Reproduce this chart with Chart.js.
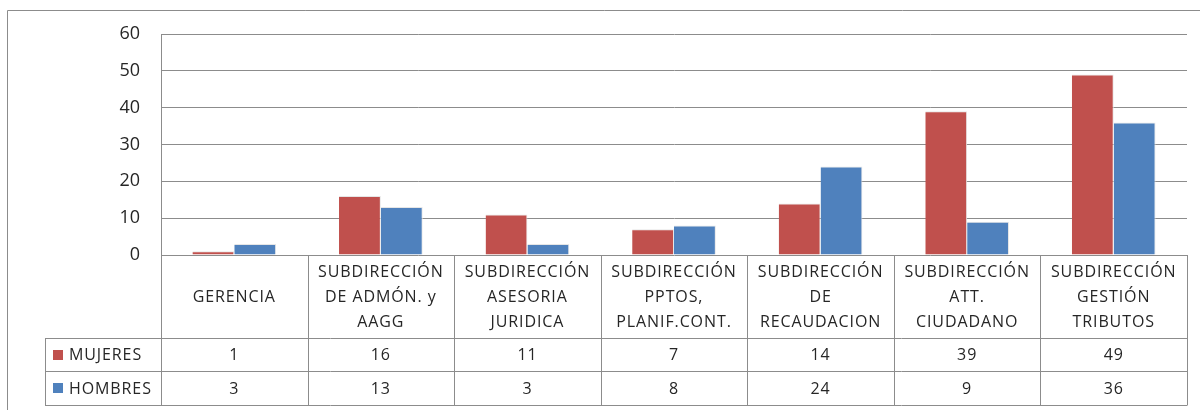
<!DOCTYPE html>
<html>
<head>
<meta charset="utf-8">
<script src="https://cdn.jsdelivr.net/npm/chart.js@4/dist/chart.umd.min.js"></script>
<style>
  html, body { margin: 0; padding: 0; background: #fff; }
  canvas { display: block; }
</style>
</head>
<body>
<canvas id="chart" width="1200" height="410"></canvas>
<script>
const categories = [
  ['GERENCIA'],
  ['SUBDIRECCIÓN', 'DE ADMÓN. y', 'AAGG'],
  ['SUBDIRECCIÓN', 'ASESORIA', 'JURIDICA'],
  ['SUBDIRECCIÓN', 'PPTOS,', 'PLANIF.CONT.'],
  ['SUBDIRECCIÓN', 'DE', 'RECAUDACION'],
  ['SUBDIRECCIÓN', 'ATT.', 'CIUDADANO'],
  ['SUBDIRECCIÓN', 'GESTIÓN', 'TRIBUTOS']
];
const mujeres = [1, 16, 11, 7, 14, 39, 49];
const hombres = [3, 13, 3, 8, 24, 9, 36];
const seriesNames = ['MUJERES', 'HOMBRES'];
const yTicks = [0, 10, 20, 30, 40, 50, 60];

const FONT = '"Open Sans", "Liberation Sans", sans-serif';
const LINE = '#8c8c8c';
const TEXT = '#262626';

// draws the data table under the plot, columns taken from the x scale
const dataTable = {
  id: 'dataTable',
  afterDraw(chart) {
    const ctx = chart.ctx;
    const area = chart.chartArea;
    const x = chart.scales.x;
    const n = categories.length;
    const colW = (area.right - area.left) / n;
    const top = Math.round(area.bottom);
    const rows = [top + 83, top + 116, top + 150];
    const legendLeft = 45;

    ctx.save();
    ctx.strokeStyle = LINE;
    ctx.lineWidth = 1;

    // outer chart frame
    ctx.beginPath();
    ctx.moveTo(7.5, 420);
    ctx.lineTo(7.5, 10.5);
    ctx.lineTo(1210, 10.5);
    ctx.stroke();

    // horizontal lines
    ctx.beginPath();
    rows.forEach(r => {
      ctx.moveTo(legendLeft, r + 0.5);
      ctx.lineTo(area.right, r + 0.5);
    });
    ctx.stroke();

    // vertical lines
    ctx.beginPath();
    for (let i = 0; i <= n; i++) {
      const px = Math.round(area.left + i * colW) + 0.5;
      ctx.moveTo(px, top);
      ctx.lineTo(px, rows[2] + 0.5);
    }
    ctx.moveTo(legendLeft + 0.5, rows[0]);
    ctx.lineTo(legendLeft + 0.5, rows[2] + 0.5);
    ctx.stroke();

    // header text
    ctx.fillStyle = TEXT;
    ctx.font = '16px ' + FONT;
    ctx.letterSpacing = '0.9px';
    ctx.textAlign = 'center';
    ctx.textBaseline = 'middle';
    const headMid = (top + rows[0]) / 2 + 1;
    categories.forEach((lines, i) => {
      const cx = x.getPixelForValue(i);
      const y0 = headMid - (lines.length - 1) * 25 / 2;
      lines.forEach((t, j) => ctx.fillText(t, cx, y0 + j * 25));
    });

    // value rows with legend keys
    const series = [mujeres, hombres];
    chart.data.datasets.forEach((ds, s) => {
      const mid = (rows[s] + rows[s + 1]) / 2 + 1;
      ctx.fillStyle = ds.backgroundColor;
      ctx.fillRect(53, Math.round(mid) - 6, 10, 10);
      ctx.fillStyle = TEXT;
      ctx.textAlign = 'left';
      ctx.fillText(seriesNames[s], 69, mid);
      ctx.textAlign = 'center';
      series[s].forEach((v, i) => ctx.fillText(String(v), x.getPixelForValue(i), mid));
    });
    ctx.restore();
  }
};

new Chart(document.getElementById('chart'), {
  type: 'bar',
  data: {
    labels: categories,
    datasets: [
      { label: seriesNames[0], data: mujeres, backgroundColor: '#C0504D', borderColor: '#e6e6e6', borderWidth: { top: 1, right: 1 } },
      { label: seriesNames[1], data: hombres, backgroundColor: '#4F81BD', borderColor: '#e6e6e6', borderWidth: { top: 1, right: 1 } }
    ]
  },
  options: {
    responsive: false,
    animation: false,
    datasets: {
      bar: { categoryPercentage: 0.571, barPercentage: 1 }
    },
    layout: { padding: { left: 0, top: 34, right: 13, bottom: 155 } },
    plugins: {
      legend: { display: false },
      tooltip: { enabled: false }
    },
    scales: {
      x: { display: false },
      y: {
        min: yTicks[0],
        max: yTicks[yTicks.length - 1],
        afterBuildTicks: scale => { scale.ticks = yTicks.map(v => ({ value: v })); },
        afterFit: scale => { scale.width = 161; },
        ticks: {
          padding: 21,
          color: TEXT,
          font: { family: FONT, size: 18 }
        },
        grid: { color: LINE, drawTicks: false },
        border: { display: true, color: LINE }
      }
    }
  },
  plugins: [dataTable]
});
</script>
</body>
</html>
